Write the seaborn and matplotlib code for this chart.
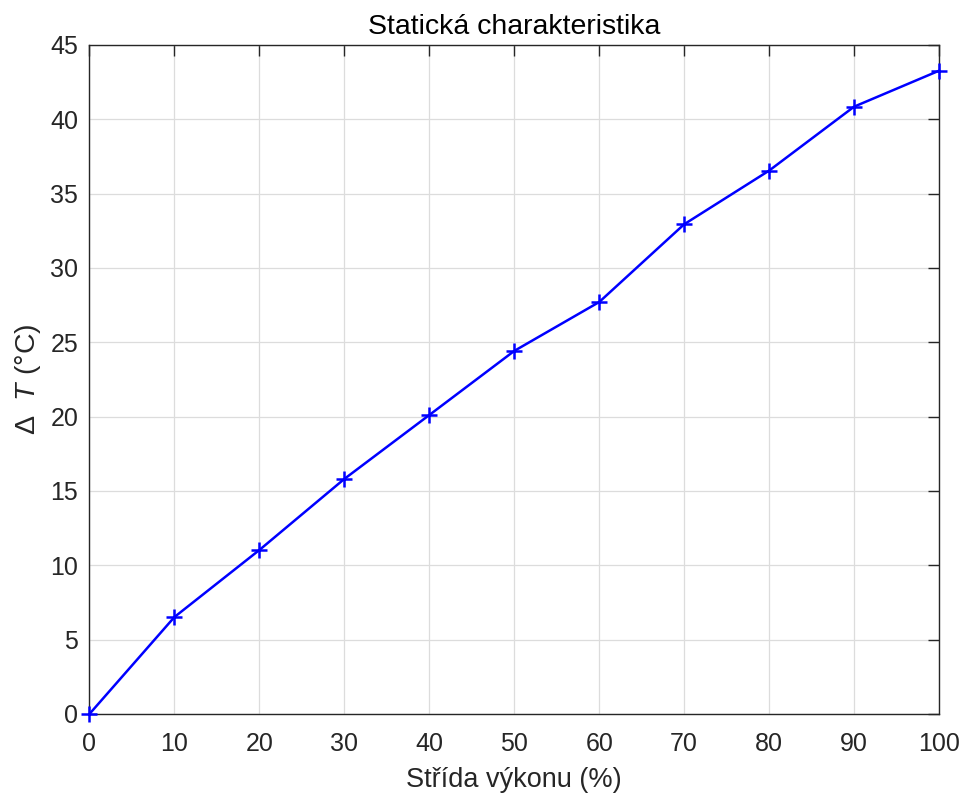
import matplotlib
matplotlib.use("Agg")
import matplotlib.pyplot as plt
import seaborn as sns
import pandas as pd

strida = [0, 10, 20, 30, 40, 50, 60, 70, 80, 90, 100]
delta_t = [0.0, 6.52, 11.03, 15.81, 20.11, 24.42, 27.71, 32.94, 36.55, 40.85, 43.27]
x_ticks = [0, 10, 20, 30, 40, 50, 60, 70, 80, 90, 100]
y_ticks = [0, 5, 10, 15, 20, 25, 30, 35, 40, 45]

sns.set_style("white")
plt.rcParams['font.family'] = ['Liberation Sans', 'DejaVu Sans']
plt.rcParams['mathtext.fontset'] = 'custom'
plt.rcParams['mathtext.rm'] = 'Liberation Sans'
plt.rcParams['mathtext.it'] = 'Liberation Sans:italic'

df = pd.DataFrame({"x": strida, "y": delta_t})

fig = plt.figure(figsize=(9.65, 7.99), dpi=100)
ax = fig.add_axes([0.0927, 0.1064, 0.9731 - 0.0927, 0.9437 - 0.1064])
sns.lineplot(data=df, x="x", y="y", ax=ax, color=(0, 0, 1), linewidth=1.8,
             marker='+', markersize=11, markeredgewidth=1.8, markeredgecolor=(0, 0, 1),
             clip_on=False, zorder=5)

ax.set_xlim(0, 100)
ax.set_ylim(0, 45)
ax.set_xticks(x_ticks)
ax.set_yticks(y_ticks)
ax.grid(True, color='#dcdcdc', linewidth=0.9)
ax.set_axisbelow(True)
for s in ax.spines.values():
    s.set_color('#262626')
    s.set_linewidth(1.0)
ax.tick_params(direction='in', length=8, width=1.0, colors='#262626',
               labelsize=18, top=True, right=True, labeltop=False, labelright=False)
ax.tick_params(axis='x', pad=13)
ax.tick_params(axis='y', pad=8)
ax.set_xlabel("Střída výkonu (%)", fontsize=19.5, color='#262626', labelpad=8)
ax.set_ylabel(r"$\Delta$  $T$ (°C)", fontsize=20.5, color='#262626', labelpad=5)
ax.set_title("Statická charakteristika", fontsize=20.5, color='black', pad=8)

fig.savefig("out.png", dpi=100)
